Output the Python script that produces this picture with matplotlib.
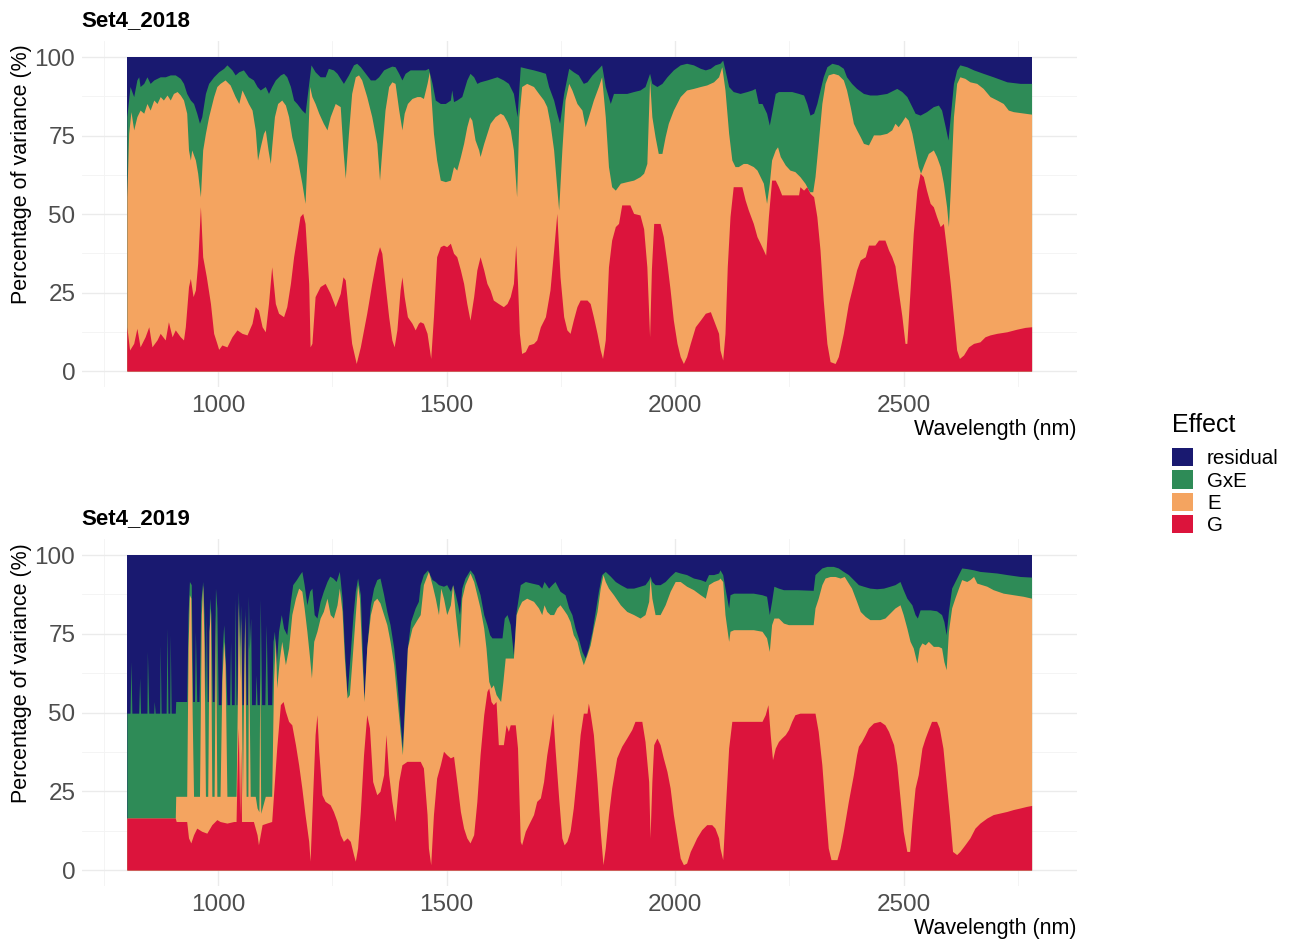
import matplotlib.pyplot as plt
from matplotlib.patches import Patch
from matplotlib.ticker import FixedLocator

plt.rcParams['font.family'] = ['Liberation Sans', 'DejaVu Sans']

# effect order as in the legend (top of the stack first)
effects = ['residual', 'GxE', 'E', 'G']
colors = {'residual': '#191970', 'GxE': '#2E8B57', 'E': '#F4A460', 'G': '#DC143C'}
wl_range = [800, 2780]

# ---- Set4_2018: cumulative tops of the stack (wavelength nm, % variance) ----
G_2018 = [
    (800, 14.1), (806, 6.7), (815, 8.8), (822, 13.6), (829, 7.7), (840, 10.9), (848, 14.1), (855, 7.7), (866, 9.9), (873, 12.0),
    (884, 9.9), (891, 15.7), (899, 10.9), (906, 13.1), (917, 10.9), (924, 9.9), (928, 14.1), (935, 26.9), (939, 29.5), (945, 23.7),
    (950, 25.8), (955, 34.3), (961, 52.3), (966, 36.4), (974, 30.0), (983, 21.5), (990, 12.0), (997, 8.8), (1001, 6.9), (1008, 8.3),
    (1019, 7.7), (1030, 10.9), (1041, 13.1), (1052, 12.0), (1063, 11.5), (1074, 15.2), (1081, 20.5), (1088, 19.4), (1096, 14.1), (1103, 12.5),
    (1110, 21.5), (1117, 33.2), (1125, 21.5), (1132, 18.4), (1143, 17.3), (1150, 20.5), (1158, 27.9), (1165, 36.4), (1172, 42.8), (1179, 49.2),
    (1185, 50.2), (1190, 47.0), (1198, 27.9), (1201, 7.7), (1205, 8.8), (1212, 23.7), (1223, 26.9), (1234, 27.9), (1245, 24.7), (1256, 20.5),
    (1267, 24.7), (1273, 30.0), (1278, 29.0), (1285, 18.4), (1292, 8.8), (1302, 2.4), (1311, 7.7), (1325, 18.4), (1336, 27.9), (1347, 36.4),
    (1353, 39.6), (1358, 37.5), (1365, 27.9), (1373, 17.3), (1380, 9.9), (1385, 7.7), (1391, 13.1), (1398, 25.8), (1402, 30.0), (1407, 23.7),
    (1414, 17.3), (1424, 15.2), (1431, 13.1), (1438, 15.2),
    (1442, 15.7), (1449, 15.2), (1457, 12.0), (1465, 4.0), (1471, 17.3), (1478, 36.4), (1486, 39.6), (1493, 40.1), (1500, 39.6), (1508, 40.7),
    (1515, 37.5), (1522, 36.4), (1530, 32.2), (1537, 27.9), (1544, 21.5), (1551, 16.2), (1559, 23.7), (1566, 32.2), (1573, 36.4), (1581, 32.2),
    (1588, 27.9), (1595, 25.8), (1602, 22.6), (1613, 21.5), (1624, 20.5), (1632, 21.5), (1639, 23.7), (1646, 27.9), (1651, 40.1), (1655, 27.9),
    (1659, 12.0), (1664, 5.6), (1672, 6.2), (1679, 8.3), (1690, 8.8), (1697, 9.9), (1705, 14.1), (1716, 17.3), (1726, 25.8), (1734, 38.5),
    (1741, 50.2), (1748, 30.0), (1756, 17.3), (1763, 13.1), (1770, 12.0), (1777, 16.2), (1785, 20.5), (1792, 22.6), (1807, 22.6), (1814, 21.5),
    (1821, 17.3), (1829, 12.0), (1836, 6.7), (1841, 4.0), (1847, 9.9), (1854, 33.2), (1861, 41.7), (1869, 46.0), (1876, 47.0), (1883, 52.9),
    (1901, 52.9), (1909, 50.2), (1923, 49.7), (1931, 45.3), (1938, 33.2), (1944, 10.9), (1948, 32.5), (1953, 47.0), (1967, 47.0), (1974, 42.8),
    (1982, 34.3), (1989, 25.8), (1996, 16.2), (2004, 8.8), (2011, 4.6), (2018, 2.4), (2025, 4.6), (2033, 8.8), (2044, 14.1), (2055, 16.2),
    (2066, 18.4), (2077, 18.9), (2084, 16.2), (2095, 12.0),
    (2098, 6.7), (2104, 3.5), (2109, 12.0), (2114, 33.2), (2120, 49.2), (2127, 58.7), (2146, 58.7), (2153, 54.5), (2160, 51.3), (2171, 47.0),
    (2179, 42.8), (2186, 40.7), (2193, 38.5), (2198, 36.9), (2204, 49.2), (2211, 60.8), (2219, 60.8), (2226, 58.7), (2233, 56.1), (2270, 56.1),
    (2273, 58.7), (2281, 57.6), (2288, 58.7), (2295, 56.6), (2303, 55.5), (2310, 49.2), (2317, 38.5), (2324, 22.6), (2332, 8.8), (2339, 3.0),
    (2350, 2.4), (2357, 4.6), (2368, 12.0), (2379, 21.5), (2390, 27.9), (2397, 32.2), (2405, 35.4), (2416, 36.4), (2423, 40.1), (2437, 40.1),
    (2445, 41.7), (2459, 41.7), (2467, 38.5), (2474, 36.4), (2481, 33.5), (2488, 25.8), (2496, 17.6), (2503, 8.8), (2507, 8.8), (2514, 25.8),
    (2521, 43.8), (2529, 57.6), (2536, 63.0), (2543, 61.9), (2550, 57.6), (2558, 53.4), (2565, 52.3), (2572, 49.2), (2580, 46.0), (2587, 47.0),
    (2594, 38.5), (2602, 27.9), (2609, 17.3), (2616, 6.7), (2622, 4.0), (2631, 5.1), (2642, 7.7), (2653, 8.8), (2667, 9.3), (2678, 10.9),
    (2689, 11.5), (2704, 12.0), (2726, 12.5), (2747, 13.3), (2766, 13.9), (2780, 14.1),
]

GE_2018 = [
    (800, 55.5), (804, 75.7), (809, 82.6), (815, 76.8), (822, 81.0), (829, 83.1), (837, 82.1), (844, 85.2), (851, 83.1), (859, 86.3),
    (866, 85.2), (873, 87.4), (880, 86.3), (888, 87.9), (895, 86.3), (902, 88.4), (910, 89.0), (917, 87.9), (924, 86.3), (931, 82.1),
    (935, 70.4), (939, 67.2), (942, 70.4), (950, 67.2), (955, 63.0), (961, 55.5), (966, 70.4), (972, 75.7), (979, 81.0), (990, 87.4),
    (997, 90.6), (1004, 91.6), (1015, 92.7), (1026, 91.1), (1037, 87.4), (1045, 85.2), (1052, 89.5), (1059, 87.4), (1066, 85.2), (1074, 83.1),
    (1081, 76.8), (1086, 67.2), (1092, 71.4), (1099, 75.7), (1103, 76.8), (1109, 70.4), (1114, 66.1), (1117, 71.4), (1123, 81.0), (1130, 85.2),
    (1139, 86.3), (1147, 84.7), (1154, 81.0), (1161, 74.6), (1172, 68.3), (1183, 59.8), (1190, 53.4), (1195, 70.4), (1200, 90.6), (1205, 87.4),
    (1212, 85.2), (1220, 82.1), (1230, 78.9), (1238, 76.8), (1245, 81.0), (1256, 85.2), (1267, 84.2), (1273, 70.4), (1278, 61.4), (1285, 75.7),
    (1292, 88.4), (1300, 93.7), (1307, 94.3), (1314, 92.7), (1325, 87.4), (1336, 81.0), (1347, 72.5), (1353, 60.8), (1358, 70.4), (1365, 83.1),
    (1373, 90.6), (1380, 92.1), (1387, 91.6), (1395, 83.1), (1402, 76.8), (1407, 82.1), (1414, 85.2), (1424, 86.8), (1435, 87.4),
    (1442, 87.4), (1449, 86.8), (1457, 91.6), (1462, 95.3), (1471, 75.7), (1478, 67.2), (1486, 60.8), (1497, 60.3), (1508, 60.8), (1515, 65.1),
    (1522, 64.0), (1530, 68.3), (1537, 72.5), (1544, 77.8), (1550, 81.0), (1555, 79.9), (1562, 73.6), (1570, 70.4), (1573, 68.3), (1581, 72.5),
    (1588, 75.7), (1595, 78.9), (1606, 81.0), (1617, 82.1), (1624, 81.5), (1632, 79.4), (1639, 76.8), (1646, 70.4), (1653, 55.5), (1658, 81.0),
    (1664, 90.6), (1675, 91.6), (1690, 90.6), (1701, 88.4), (1712, 86.3), (1719, 84.2), (1726, 78.9), (1734, 70.4), (1740, 59.8), (1745, 51.3),
    (1752, 70.4), (1759, 86.3), (1767, 91.6), (1774, 89.5), (1785, 85.2), (1796, 83.1), (1803, 77.8), (1810, 81.0), (1821, 86.3), (1832, 90.6),
    (1839, 93.7), (1847, 81.0), (1854, 65.1), (1861, 58.7), (1869, 57.6), (1880, 59.8), (1894, 60.3), (1909, 60.8), (1923, 61.9), (1931, 63.0),
    (1938, 66.1), (1944, 92.7), (1949, 81.0), (1956, 74.6), (1963, 69.3), (1971, 69.3), (1978, 74.6), (1985, 78.9), (1996, 83.1), (2011, 87.4),
    (2025, 89.5), (2040, 90.0), (2055, 90.6), (2069, 91.1), (2084, 92.1), (2095, 93.7),
    (2102, 96.9), (2109, 89.5), (2117, 75.7), (2124, 67.2), (2131, 65.1), (2138, 65.1), (2149, 66.1), (2157, 66.1), (2164, 65.6), (2171, 65.1),
    (2179, 64.0), (2186, 61.9), (2193, 59.8), (2200, 53.4), (2206, 59.8), (2211, 67.2), (2219, 70.4), (2224, 71.4), (2230, 68.3), (2241, 65.6),
    (2251, 64.0), (2262, 63.5), (2273, 61.9), (2284, 59.8), (2294, 57.1), (2301, 57.1), (2306, 61.9), (2313, 72.5), (2321, 85.2), (2328, 91.6),
    (2335, 94.3), (2346, 94.8), (2357, 94.3), (2368, 92.7), (2375, 89.5), (2383, 84.2), (2390, 78.9), (2397, 76.8), (2405, 74.6), (2412, 72.5),
    (2423, 72.0), (2434, 75.2), (2448, 75.2), (2463, 75.7), (2474, 76.8), (2481, 78.9), (2488, 77.8), (2496, 79.4), (2503, 81.0), (2510, 79.9),
    (2518, 75.7), (2525, 70.4), (2532, 65.1), (2537, 63.0), (2545, 66.1), (2554, 69.3), (2565, 70.4), (2572, 68.3), (2580, 65.1), (2587, 59.8),
    (2594, 52.3), (2598, 46.0), (2602, 57.6), (2609, 81.0), (2616, 91.6), (2623, 93.7), (2634, 93.2), (2645, 92.1), (2660, 91.6), (2674, 90.0),
    (2689, 87.4), (2704, 86.3), (2718, 85.2), (2729, 83.1), (2740, 82.6), (2755, 82.3), (2780, 81.8),
]

GEX_2018 = [
    (800, 81.0), (807, 90.6), (815, 87.4), (822, 92.7), (826, 93.7), (829, 90.6), (837, 91.6), (844, 93.7), (851, 91.6), (859, 92.7),
    (866, 93.2), (873, 93.7), (884, 93.7), (895, 94.3), (906, 94.3), (917, 93.2), (924, 91.6), (931, 88.4), (939, 86.3), (946, 85.2),
    (953, 82.1), (959, 78.9), (964, 81.0), (972, 88.4), (979, 91.6), (990, 93.7), (1001, 95.3), (1012, 96.4), (1019, 97.5), (1030, 95.9),
    (1037, 94.3), (1045, 95.3), (1055, 95.9), (1066, 93.7), (1077, 92.7), (1085, 90.6), (1092, 89.5), (1103, 90.6), (1110, 88.4), (1117, 90.6),
    (1125, 92.7), (1136, 94.3), (1143, 94.8), (1150, 93.7), (1158, 90.6), (1165, 86.3), (1172, 85.2), (1183, 83.1), (1190, 82.1), (1198, 91.6),
    (1203, 97.5), (1212, 95.3), (1223, 93.7), (1234, 93.7), (1241, 96.4), (1252, 95.9), (1260, 94.8), (1267, 93.2), (1274, 91.6), (1285, 94.3),
    (1296, 97.5), (1303, 98.0), (1311, 96.9), (1322, 94.8), (1333, 92.7), (1343, 92.7), (1351, 93.7), (1362, 95.9), (1369, 96.4), (1380, 97.1),
    (1387, 96.9), (1395, 94.8), (1402, 92.7), (1409, 94.8), (1420, 95.9), (1435, 95.9),
    (1442, 95.9), (1453, 95.9), (1460, 96.4), (1468, 91.6), (1475, 86.3), (1486, 85.2), (1497, 85.2), (1508, 86.3), (1511, 89.5), (1515, 85.8),
    (1522, 86.3), (1533, 87.4), (1544, 92.7), (1551, 94.8), (1559, 93.7), (1566, 91.6), (1573, 92.1), (1588, 92.7), (1599, 93.2), (1610, 93.7),
    (1624, 92.7), (1635, 91.6), (1646, 88.4), (1654, 81.0), (1661, 96.9), (1675, 96.4), (1690, 95.9), (1705, 95.3), (1716, 94.8), (1723, 90.6),
    (1734, 86.3), (1741, 82.1), (1747, 78.9), (1756, 88.4), (1767, 96.4), (1777, 95.3), (1788, 94.3), (1799, 91.6), (1807, 92.1), (1818, 94.3),
    (1829, 95.9), (1839, 97.5), (1847, 90.6), (1858, 85.2), (1865, 88.4), (1880, 88.4), (1894, 88.4), (1909, 89.0), (1923, 89.5), (1934, 90.6),
    (1944, 94.8), (1949, 91.6), (1960, 90.6), (1971, 91.6), (1982, 93.7), (1996, 95.9), (2011, 97.5), (2025, 98.0), (2040, 97.5), (2055, 96.4),
    (2066, 95.9), (2077, 96.4), (2087, 97.5),
    (2098, 98.0), (2104, 99.0), (2109, 95.9), (2117, 90.6), (2127, 89.0), (2142, 88.4), (2157, 89.0), (2168, 89.5), (2175, 90.0), (2182, 85.2),
    (2190, 85.2), (2200, 82.1), (2206, 78.3), (2211, 82.1), (2219, 88.4), (2226, 89.0), (2241, 89.0), (2255, 89.0), (2270, 88.4), (2281, 87.9),
    (2288, 85.2), (2295, 81.5), (2303, 82.1), (2310, 85.2), (2317, 89.5), (2324, 93.7), (2332, 96.9), (2343, 98.0), (2357, 97.5), (2368, 96.4),
    (2375, 93.7), (2386, 91.6), (2397, 90.0), (2412, 88.4), (2426, 87.9), (2441, 87.9), (2463, 88.4), (2478, 89.5), (2485, 90.0), (2496, 89.0),
    (2507, 87.4), (2518, 84.2), (2525, 82.1), (2536, 81.5), (2550, 82.6), (2565, 84.2), (2576, 84.7), (2583, 83.1), (2591, 77.8), (2597, 73.6),
    (2602, 81.0), (2609, 91.6), (2616, 95.9), (2623, 97.5), (2638, 96.9), (2653, 95.9), (2674, 94.8), (2696, 93.7), (2726, 92.1), (2755, 91.6),
    (2780, 91.6),
]

# ---- Set4_2019 ----
G_2019 = [
    (800, 16.5), (906, 16.5), (908, 15.4), (931, 15.4), (935, 10.2), (940, 8.6), (946, 11.2), (953, 13.3), (964, 12.3), (975, 11.7),
    (986, 14.4), (997, 16.0), (1004, 15.4), (1019, 14.9), (1034, 15.4), (1039, 15.4), (1042, 36.6), (1044, 45.1), (1047, 17.6), (1049, 38.7),
    (1051, 15.4), (1063, 15.4), (1077, 15.4), (1085, 11.2), (1088, 8.0), (1096, 14.4), (1106, 14.9), (1117, 15.4), (1121, 23.9), (1128, 38.7),
    (1136, 52.5), (1142, 53.5), (1147, 50.4), (1154, 47.2), (1161, 46.1), (1169, 39.8), (1176, 33.4), (1183, 26.0), (1190, 17.6), (1198, 9.1),
    (1201, 2.8), (1207, 25.0), (1212, 43.0), (1216, 49.3), (1220, 37.7), (1227, 23.9), (1234, 21.8), (1245, 20.7), (1252, 18.6), (1260, 15.4),
    (1267, 11.2), (1274, 9.1), (1282, 10.2), (1289, 9.1), (1296, 4.9), (1300, 2.8), (1305, 7.0), (1311, 18.6), (1318, 36.6), (1325, 49.3),
    (1331, 45.1), (1338, 28.1), (1347, 23.9), (1354, 25.0), (1362, 30.3), (1367, 43.0), (1373, 30.3), (1380, 21.8), (1387, 15.4), (1395, 28.1),
    (1402, 33.4), (1413, 34.5), (1424, 34.5), (1435, 34.5),
    (1442, 34.5), (1449, 32.4), (1457, 17.6), (1460, 7.0), (1465, 1.7), (1471, 17.6), (1478, 29.2), (1486, 33.4), (1493, 37.7), (1500, 36.6),
    (1508, 35.6), (1515, 36.1), (1522, 28.1), (1530, 18.6), (1537, 13.3), (1544, 10.2), (1551, 8.6), (1559, 11.2), (1566, 21.8), (1573, 36.6),
    (1581, 49.3), (1588, 56.7), (1592, 57.8), (1597, 53.5), (1602, 52.5), (1608, 53.5), (1613, 39.8), (1624, 39.8), (1630, 46.1), (1635, 44.0),
    (1639, 46.1), (1650, 46.1), (1655, 38.7), (1661, 9.1), (1664, 8.0), (1672, 12.3), (1679, 14.4), (1690, 17.6), (1697, 21.8), (1705, 22.9),
    (1712, 28.1), (1719, 36.6), (1726, 43.0), (1732, 49.8), (1737, 38.7), (1745, 22.9), (1752, 10.2), (1757, 8.0), (1763, 9.1), (1770, 12.3),
    (1777, 19.7), (1785, 31.3), (1792, 43.0), (1799, 49.8), (1807, 49.8), (1810, 53.0), (1814, 49.8), (1821, 43.0), (1829, 28.1), (1836, 12.3),
    (1842, 1.7), (1847, 7.0), (1854, 17.6), (1861, 26.0), (1872, 35.6), (1883, 39.3), (1894, 41.9), (1905, 44.6), (1912, 47.2), (1927, 47.2),
    (1934, 40.8), (1942, 28.1), (1945, 10.2), (1949, 28.1), (1953, 39.8), (1960, 41.9), (1967, 39.8), (1974, 35.6), (1982, 31.3), (1989, 26.0),
    (1996, 17.6), (2004, 10.2), (2011, 3.8), (2018, 1.7), (2025, 2.2), (2033, 5.9), (2040, 8.0), (2047, 10.2), (2058, 12.8), (2069, 14.4),
    (2080, 14.4), (2087, 13.3), (2095, 10.2),
    (2098, 7.0), (2104, 3.3), (2109, 17.6), (2117, 38.7), (2124, 47.2), (2190, 47.2), (2197, 49.3), (2203, 52.5), (2208, 43.0), (2213, 35.0),
    (2219, 38.7), (2226, 40.8), (2233, 41.9), (2241, 43.0), (2248, 44.6), (2255, 47.2), (2262, 49.3), (2273, 49.8), (2306, 49.8), (2313, 44.0),
    (2321, 33.4), (2328, 19.7), (2335, 7.0), (2341, 3.3), (2354, 3.3), (2361, 7.0), (2368, 12.3), (2379, 21.8), (2390, 30.3), (2397, 36.6),
    (2401, 39.3), (2408, 40.8), (2416, 43.0), (2423, 45.1), (2434, 46.7), (2448, 47.2), (2459, 46.1), (2467, 44.0), (2478, 39.8), (2485, 33.4),
    (2492, 22.9), (2499, 12.3), (2507, 5.9), (2513, 5.9), (2518, 15.4), (2525, 26.0), (2532, 30.3), (2540, 38.7), (2547, 41.9), (2554, 44.6),
    (2561, 47.2), (2572, 47.2), (2578, 45.1), (2586, 38.7), (2593, 28.1), (2600, 17.6), (2607, 5.9), (2616, 4.9), (2623, 5.9), (2634, 8.0),
    (2645, 10.2), (2656, 13.3), (2667, 14.9), (2682, 16.5), (2696, 17.6), (2711, 18.1), (2726, 18.6), (2740, 19.2), (2755, 19.7), (2769, 20.2),
    (2780, 20.5),
]

GE_2019 = [
    (800, 16.5), (906, 16.5), (907, 23.4), (931, 23.4), (934, 70.5), (937, 87.4), (940, 86.3), (943, 49.3), (946, 23.4), (959, 23.4),
    (963, 81.1), (966, 90.6), (969, 70.5), (972, 23.4), (977, 23.4), (980, 75.8), (983, 83.2), (986, 23.4), (991, 23.4), (994, 81.1),
    (997, 23.4), (1004, 23.4), (1008, 59.9), (1012, 72.6), (1015, 65.2), (1019, 23.4), (1039, 23.4), (1042, 55.0), (1044, 85.0), (1047, 59.9),
    (1049, 80.0), (1053, 23.4), (1055, 49.3), (1058, 81.1), (1061, 23.4), (1065, 23.4), (1066, 72.0), (1068, 50.0), (1070, 23.4), (1081, 23.4),
    (1085, 19.7), (1089, 18.5), (1091, 62.0), (1093, 18.0), (1103, 23.4), (1117, 23.4),
    (1121, 59.9), (1125, 73.7), (1128, 57.8), (1134, 67.3), (1139, 72.6), (1147, 65.2), (1154, 70.5), (1161, 81.1), (1169, 86.3), (1176, 89.5),
    (1183, 88.5), (1188, 83.2), (1194, 75.8), (1200, 67.3), (1204, 61.0), (1209, 72.6), (1216, 75.8), (1223, 80.0), (1230, 82.1), (1238, 86.3),
    (1245, 81.1), (1252, 80.0), (1260, 84.2), (1265, 89.5), (1271, 82.1), (1276, 67.3), (1282, 54.6), (1287, 55.7), (1292, 65.2), (1300, 81.1),
    (1305, 90.6), (1309, 86.3), (1314, 68.4), (1319, 53.5), (1325, 70.5), (1333, 81.1), (1340, 85.3), (1347, 86.3), (1354, 84.8), (1362, 81.1),
    (1369, 77.9), (1376, 72.6), (1384, 65.2), (1391, 54.6), (1398, 44.0), (1403, 36.6), (1409, 54.6), (1414, 70.5), (1424, 76.8), (1435, 79.5),
    (1442, 81.1), (1449, 90.6), (1460, 94.8), (1468, 90.6), (1475, 86.3), (1482, 81.1), (1487, 89.5), (1493, 86.3), (1500, 81.1), (1508, 84.2),
    (1513, 90.6), (1519, 81.1), (1524, 74.7), (1528, 70.5), (1533, 86.3), (1540, 90.6), (1551, 94.3), (1559, 91.6), (1566, 87.4), (1573, 83.2),
    (1581, 76.8), (1586, 70.5), (1592, 59.9), (1597, 57.8), (1602, 58.8), (1608, 55.7), (1618, 53.5), (1623, 59.9), (1628, 67.3), (1646, 67.3),
    (1652, 81.1), (1657, 83.2), (1664, 85.3), (1675, 86.3), (1690, 85.3), (1701, 83.2), (1708, 81.1), (1713, 84.2), (1719, 82.1), (1726, 81.1),
    (1734, 81.1), (1741, 83.2), (1748, 84.2), (1756, 82.6), (1763, 81.1), (1770, 78.9), (1777, 74.7), (1785, 72.6), (1792, 68.4), (1799, 65.2),
    (1807, 68.4), (1814, 71.5), (1821, 76.8), (1829, 82.1), (1836, 89.5), (1842, 93.8), (1847, 91.6), (1854, 89.5), (1865, 87.4), (1880, 84.2),
    (1894, 82.1), (1909, 81.1), (1923, 80.0), (1934, 81.1), (1942, 85.3), (1945, 92.7), (1949, 86.3), (1956, 81.1), (1967, 81.1), (1978, 84.2),
    (1989, 88.5), (2000, 91.6), (2011, 91.6), (2025, 90.1), (2040, 89.0), (2055, 87.4), (2066, 86.3), (2073, 90.6), (2084, 91.6), (2095, 92.2),
    (2098, 92.7), (2104, 91.6), (2109, 81.1), (2117, 72.6), (2120, 75.8), (2128, 76.3), (2171, 76.3), (2190, 75.8), (2200, 73.7), (2206, 69.4),
    (2211, 77.9), (2216, 80.0), (2226, 80.0), (2237, 78.4), (2248, 77.9), (2302, 77.9), (2306, 83.2), (2313, 86.3), (2321, 90.6), (2328, 92.7),
    (2339, 93.2), (2350, 93.2), (2361, 92.7), (2370, 93.2), (2379, 91.1), (2386, 89.5), (2397, 85.3), (2405, 82.1), (2416, 80.5), (2426, 79.5),
    (2448, 79.5), (2459, 80.0), (2470, 81.6), (2481, 83.2), (2492, 84.2), (2499, 81.1), (2507, 76.8), (2514, 72.6), (2521, 70.5), (2529, 65.7),
    (2534, 70.5), (2540, 72.1), (2547, 71.5), (2554, 72.6), (2565, 71.0), (2576, 71.0), (2583, 70.5), (2588, 66.2), (2593, 63.6), (2598, 75.8),
    (2605, 83.2), (2612, 86.3), (2620, 89.5), (2627, 92.2), (2638, 91.6), (2645, 92.2), (2653, 93.2), (2660, 91.1), (2671, 90.6), (2682, 90.1),
    (2696, 89.0), (2718, 87.9), (2740, 87.4), (2762, 86.9), (2780, 86.3),
]

GEX_2019 = [
    (800, 49.8), (807, 49.8), (809, 66.2), (811, 49.8), (826, 49.8), (828, 61.0), (830, 49.8), (844, 49.8), (845, 69.4), (848, 49.8),
    (859, 49.8), (860, 53.5), (862, 49.8), (872, 49.8), (873, 71.5), (875, 49.8), (886, 49.8), (888, 76.8), (890, 49.8), (894, 49.8),
    (895, 74.7), (897, 49.8), (906, 49.8), (907, 53.5), (931, 53.5), (934, 81.1), (937, 91.6), (941, 90.6), (944, 53.5), (948, 53.5),
    (950, 75.8), (953, 53.5), (958, 53.5), (962, 85.3), (966, 91.6), (969, 81.1), (972, 53.5), (974, 81.1), (976, 53.5), (978, 53.5),
    (981, 86.3), (984, 81.1), (987, 53.5), (991, 53.5), (994, 89.5), (997, 83.2), (1000, 52.5), (1006, 52.5), (1009, 70.5), (1012, 77.9),
    (1016, 65.2), (1019, 52.5), (1025, 52.5), (1027, 72.6), (1029, 52.5), (1035, 52.5), (1037, 86.3), (1039, 52.5), (1041, 52.5), (1044, 88.5),
    (1047, 70.5), (1049, 84.2), (1052, 52.5), (1055, 52.5), (1058, 83.2), (1061, 52.5), (1064, 52.5), (1066, 87.0), (1068, 70.0), (1071, 80.0),
    (1073, 52.5), (1081, 52.5), (1083, 62.0), (1085, 52.5), (1090, 52.5), (1092, 86.0), (1095, 52.5), (1102, 52.5), (1105, 78.0), (1108, 52.5),
    (1117, 52.5), (1120, 72.6), (1123, 75.8), (1127, 65.2), (1132, 75.8),
    (1138, 81.1), (1143, 76.8), (1150, 74.7), (1158, 85.3), (1163, 90.6), (1171, 92.2), (1178, 93.8), (1183, 94.8), (1188, 90.6), (1194, 84.2),
    (1200, 88.5), (1205, 89.5), (1210, 81.1), (1216, 80.0), (1223, 85.3), (1230, 88.5), (1238, 91.6), (1244, 93.3), (1251, 92.7), (1258, 91.6),
    (1265, 94.8), (1271, 86.3), (1276, 70.5), (1282, 55.7), (1287, 65.2), (1295, 81.1), (1300, 88.5), (1305, 92.7), (1311, 87.4), (1315, 70.5),
    (1319, 54.1), (1325, 70.5), (1333, 84.2), (1340, 89.5), (1347, 92.2), (1354, 92.7), (1362, 87.4), (1369, 82.1), (1376, 77.9), (1384, 70.5),
    (1391, 59.9), (1398, 47.2), (1403, 38.7), (1409, 57.8), (1414, 70.5), (1421, 78.9), (1431, 83.2), (1438, 85.3),
    (1442, 90.6), (1449, 93.8), (1458, 95.3), (1468, 92.2), (1475, 91.6), (1482, 90.6), (1493, 90.1), (1500, 90.6), (1508, 88.5), (1513, 90.6),
    (1519, 87.4), (1524, 84.2), (1528, 81.1), (1533, 89.5), (1540, 92.7), (1551, 95.3), (1559, 93.8), (1566, 90.6), (1573, 87.4), (1581, 81.1),
    (1588, 77.9), (1594, 74.7), (1599, 73.7), (1621, 73.7), (1626, 80.0), (1632, 81.1), (1639, 77.9), (1646, 68.4), (1652, 82.1), (1661, 90.6),
    (1672, 91.6), (1686, 91.1), (1701, 90.6), (1708, 89.5), (1713, 91.6), (1723, 89.5), (1730, 90.6), (1737, 91.6), (1748, 88.5), (1759, 87.4),
    (1767, 83.2), (1774, 81.1), (1781, 76.8), (1788, 73.7), (1796, 69.4), (1803, 67.3), (1810, 70.5), (1818, 75.8), (1825, 82.1), (1832, 88.5),
    (1839, 93.8), (1847, 94.8), (1858, 93.3), (1869, 91.6), (1880, 90.6), (1894, 89.5), (1909, 89.5), (1923, 90.1), (1934, 90.6), (1942, 92.2),
    (1945, 93.3), (1949, 91.6), (1956, 90.6), (1967, 90.6), (1978, 91.6), (1989, 93.3), (2000, 94.8), (2011, 94.3), (2025, 93.8), (2040, 92.7),
    (2055, 92.2), (2066, 91.6), (2073, 93.8), (2084, 93.8), (2095, 94.3),
    (2098, 95.3), (2104, 93.8), (2109, 89.5), (2117, 83.2), (2120, 87.4), (2128, 87.9), (2171, 87.9), (2190, 87.4), (2200, 86.9), (2206, 81.1),
    (2211, 85.3), (2216, 90.1), (2226, 89.5), (2237, 89.0), (2266, 89.0), (2302, 88.8), (2306, 93.8), (2313, 94.8), (2321, 95.9), (2332, 96.4),
    (2346, 96.4), (2357, 95.9), (2368, 94.8), (2379, 93.8), (2390, 92.2), (2401, 90.6), (2412, 90.1), (2426, 89.5), (2441, 89.3), (2456, 89.5),
    (2470, 90.1), (2481, 90.6), (2492, 91.6), (2499, 89.0), (2507, 86.3), (2518, 84.2), (2525, 81.1), (2530, 80.0), (2536, 82.6), (2558, 82.6),
    (2572, 82.3), (2583, 81.1), (2588, 78.9), (2593, 74.7), (2598, 82.1), (2605, 89.5), (2616, 92.7), (2627, 95.9), (2638, 95.7), (2653, 95.3),
    (2667, 94.8), (2682, 94.6), (2704, 94.3), (2726, 93.8), (2755, 93.2), (2780, 93.0),
]

x_major = [1000, 1500, 2000, 2500]
x_minor = [750, 1250, 1750, 2250, 2750]
y_major = [0, 25, 50, 75, 100]
y_minor = [12.5, 37.5, 62.5, 87.5]


def draw_panel(ax, title, g_top, ge_top, gex_top):
    # residual fills everything, the other effects are painted on top of it
    ax.fill_between(wl_range, 0, 100, color=colors['residual'], lw=0, zorder=2)
    for pts, key in ((gex_top, 'GxE'), (ge_top, 'E'), (g_top, 'G')):
        x, y = zip(*pts)
        ax.fill_between(x, 0, y, color=colors[key], lw=0, zorder=2)

    ax.set_xlim(701, 2879)
    ax.set_ylim(-5, 105)
    ax.xaxis.set_major_locator(FixedLocator(x_major))
    ax.xaxis.set_minor_locator(FixedLocator(x_minor))
    ax.yaxis.set_major_locator(FixedLocator(y_major))
    ax.yaxis.set_minor_locator(FixedLocator(y_minor))
    ax.grid(which='major', color='#EBEBEB', lw=1.0, zorder=0)
    ax.grid(which='minor', color='#F3F3F3', lw=0.6, zorder=0)
    ax.tick_params(which='both', length=0, pad=4.5, labelsize=17.5, labelcolor='#4D4D4D')
    ax.tick_params(axis='x', pad=6)
    for s in ax.spines.values():
        s.set_visible(False)

    ax.set_ylabel('Percentage of variance (%)', fontsize=15.5, color='black')
    ax.yaxis.set_label_coords(-0.050, 0.615)
    ax.text(1.0, -0.14, 'Wavelength (nm)', transform=ax.transAxes, ha='right', va='baseline',
            fontsize=15.5)
    ax.text(0.0, 1.043, title, transform=ax.transAxes, ha='left', va='baseline',
            fontsize=16, fontweight='bold')


fig = plt.figure(figsize=(12.89, 9.43), dpi=100)
ax1 = fig.add_axes([0.0633, 0.5899, 0.7721, 0.3663])
ax2 = fig.add_axes([0.0633, 0.0607, 0.7721, 0.3674])

draw_panel(ax1, 'Set4_2018', G_2018, GE_2018, GEX_2018)
draw_panel(ax2, 'Set4_2019', G_2019, GE_2019, GEX_2019)

# legend title kept apart so the gap below it matches ggplot's
fig.text(0.9092, 1 - 425 / 943, 'Effect', ha='left', va='center', fontsize=18)
handles = [Patch(facecolor=colors[e], edgecolor='none') for e in effects]
fig.legend(handles, effects, loc='upper left', bbox_to_anchor=(0.9092, 1 - 448 / 943),
           frameon=False, fontsize=14.8,
           handlelength=1.0, handleheight=1.0, handletextpad=0.7, labelspacing=0.1,
           borderpad=0, borderaxespad=0)

fig.savefig('out.png', dpi=100, facecolor='white')
